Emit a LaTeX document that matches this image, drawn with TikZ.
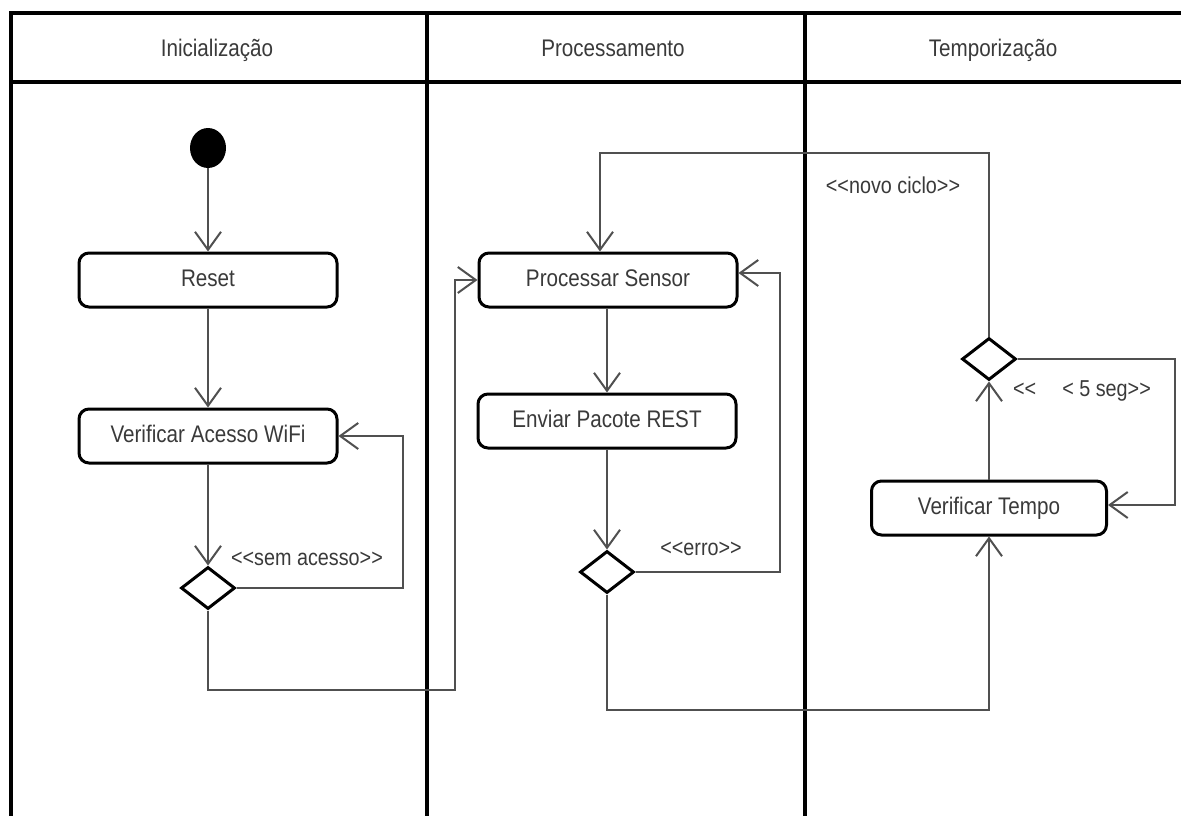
\documentclass[tikz,border=0pt]{standalone}
\usepackage{fontspec}
\setmainfont{Liberation Sans}[FakeStretch=0.86]
\usetikzlibrary{arrows.meta,shapes.geometric}
\definecolor{txt}{HTML}{3A3A3A}
\definecolor{lnk}{HTML}{505050}
\begin{document}
\begin{tikzpicture}[x=1pt,y=-1pt,
  lane/.style={line width=3.5pt, black},
  hdr/.style={font=\fontsize{24}{28}\selectfont, text=txt, text height=18pt, text depth=5pt, inner sep=0pt},
  act/.style={draw, line width=3pt, rounded corners=10pt, minimum width=258pt,
    minimum height=54pt, inner sep=0pt, font=\fontsize{24}{28}\selectfont, text=txt,
    text height=18pt, text depth=5pt},
  dec/.style={diamond, draw, line width=3pt, minimum width=54pt, minimum height=42pt,
    inner sep=0pt, fill=white},
  conn/.style={draw=lnk, line width=2pt},
  arr/.style={-{Straight Barb[length=18pt,width=26pt,line width=2pt]}},
  lbl/.style={font=\fontsize{23}{27}\selectfont, text=txt}]
\useasboundingbox (0,0) rectangle (1181,816);
\fill[white] (0,0) rectangle (1181,816);
% lanes
\draw[lane] (1181,13) -- (11,13) -- (11,816);
\draw[lane] (11,82) -- (1181,82);
\draw[lane] (427,13) -- (427,816);
\draw[lane] (805,13) -- (805,816);
\node[hdr] (h1) at (217,50) {Inicialização};
\node[hdr] (h2) at (613,50) {Processamento};
\node[hdr] (h3) at (993,50) {Temporização};
% nodes
\node[ellipse, fill=black, minimum width=36pt, minimum height=40pt, inner sep=0pt] (start) at (208,148) {};
\node[act] (reset) at (208,280) {Reset};
\node[act] (wifi) at (208,436) {Verificar Acesso WiFi};
\node[dec] (d1) at (208,588) {};
\node[act] (proc) at (608,280) {Processar Sensor};
\node[act] (send) at (607,421) {Enviar Pacote REST};
\node[dec] (d2) at (607,572) {};
\node[act, minimum width=235pt] (vt) at (989,508) {Verificar Tempo};
\node[dec] (d3) at (989,359) {};
% coordinates
\coordinate (c1) at (455,690);
\coordinate (c2) at (780,273);
\coordinate (c3) at (989,710);
\coordinate (c4) at (1175,505);
\coordinate (c5) at (600,153);
% connectors
\draw[conn,arr] (start) -- (reset);
\draw[conn,arr] (reset) -- (wifi);
\draw[conn,arr] (wifi) -- (d1);
\draw[conn,arr] (d1.east) -| ([xshift=64pt]wifi.east) -- (wifi.east);
\draw[conn,arr] (d1.south) |- (c1) |- (proc.west);
\draw[conn,arr] (proc.south -| send.north) -- (send.north);
\draw[conn,arr] (send) -- (d2);
\draw[conn,arr] (d2.east) -| (c2) -- (c2 -| proc.east);
\draw[conn,arr] (d2.south) |- (c3) -- (vt.south);
\draw[conn,arr] (vt) -- (d3);
\draw[conn,arr] (d3.east) -| (c4) -- (c4 -| vt.east);
\draw[conn,arr] (d3.north) |- (c5) -- (c5 |- proc.north);
% labels
\node[lbl] (l1) at (307,559) {<{}<sem acesso>{}>};
\node[lbl] (l2) at (701,549) {<{}<erro>{}>};
\node[lbl] (l3) at (1082,391) {<{}<\hspace{26pt}< 5 seg>{}>};
\node[lbl] (l4) at (893,185) {<{}<novo ciclo>{}>};
\end{tikzpicture}
\end{document}
